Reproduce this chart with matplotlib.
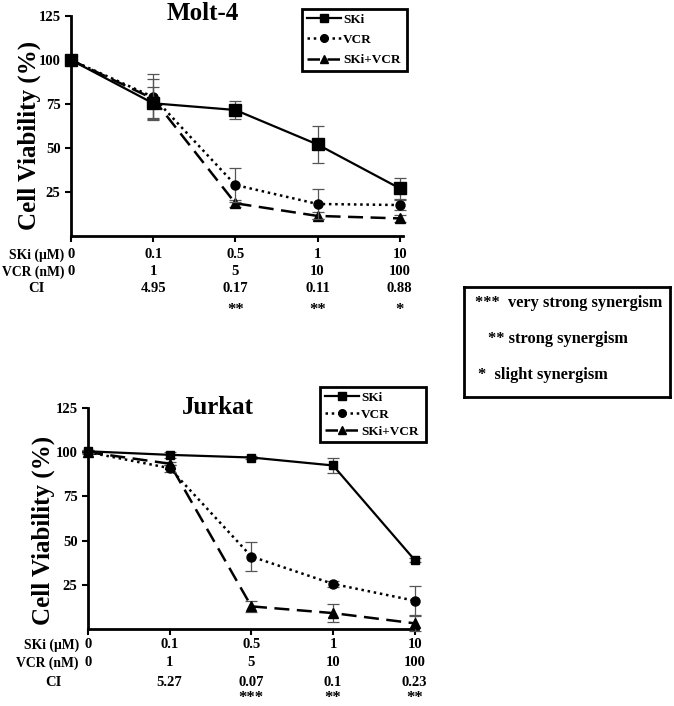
import numpy as np
import matplotlib

matplotlib.use("Agg")
import matplotlib.pyplot as plt
from matplotlib.transforms import blended_transform_factory
from matplotlib.lines import Line2D

plt.rcParams["font.family"] = ["Liberation Serif", "DejaVu Serif"]
plt.rcParams["font.weight"] = "bold"

W, H = 674, 706

positions = [0, 1, 2, 3, 4]
ski_dose = ["0", "0.1", "0.5", "1", "10"]
vcr_dose = ["0", "1", "5", "10", "100"]

molt_ski = [100, 75.4, 71.6, 52.0, 27.1]
molt_ski_err = [0, 9, 5, 10.5, 6]
molt_vcr = [100, 79, 29, 18.2, 17.6]
molt_vcr_err = [0, 13, 9.5, 8.5, 3]
molt_combo = [100, 78, 18.6, 11.4, 10]
molt_combo_err = [0, 11, 2, 2, 2]
molt_ci = ["", "4.95", "0.17", "0.11", "0.88"]
molt_stars = ["", "", "**", "**", "*"]

jurkat_ski = [100.5, 98.5, 97, 92.5, 39]
jurkat_ski_err = [1, 1.5, 1, 4.5, 1]
jurkat_vcr = [100, 91, 41, 25.5, 16]
jurkat_vcr_err = [1, 2, 8, 1.5, 8.5]
jurkat_combo = [100, 93.5, 12.8, 9, 3.2]
jurkat_combo_err = [0.5, 1, 3, 5, 4.5]
jurkat_ci = ["", "5.27", "0.07", "0.1", "0.23"]
jurkat_stars = ["", "", "***", "**", "**"]

key_lines = ["***  very strong synergism", "** strong synergism", "*  slight synergism"]

fig = plt.figure(figsize=(W / 100, H / 100), dpi=100)


def add_ax(l, t, r, b):
    return fig.add_axes([l / W, 1 - b / H, (r - l) / W, (b - t) / H])


def fy(y):
    return 1 - y / H


def fx(x):
    return x / W


def panel(box, title, title_xy, ski, ski_e, vcr, vcr_e, combo, combo_e,
          ci, stars, rows_y, label_right, ci_x, ylab_xy, leg_box, leg_sp, msq,
          star_va):
    ax = add_ax(*box)
    ekw = dict(ecolor="#555555", elinewidth=0.9, capsize=4, capthick=0.9)
    ax.errorbar(positions, combo, yerr=combo_e, color="k", ls=(0, (6, 3)), lw=1.8,
                marker="^", ms=7, clip_on=False, zorder=3, **ekw)
    ax.errorbar(positions, vcr, yerr=vcr_e, color="k", ls=(0, (1, 1.5)), lw=1.8,
                marker="o", ms=6.5, clip_on=False, zorder=4, **ekw)
    ax.errorbar(positions, ski, yerr=ski_e, color="k", ls="-", lw=1.6,
                marker="s", ms=msq, clip_on=False, zorder=5, **ekw)
    ax.set_xlim(0, 4.04)
    ax.set_ylim(0, 125)
    ax.set_yticks([25, 50, 75, 100, 125])
    ax.set_xticks(positions)
    ax.set_xticklabels([])
    ax.tick_params(direction="out", length=4, width=1.5, labelsize=10.5)
    for t in ax.get_yticklabels():
        t.set_fontweight("bold")
    for s in ("top", "right"):
        ax.spines[s].set_visible(False)
    for s in ("left", "bottom"):
        ax.spines[s].set_linewidth(2)
    fig.text(fx(title_xy[0]), fy(title_xy[1]), title, ha="center", va="center",
             fontsize=18, fontweight="bold")
    fig.text(fx(ylab_xy[0]), fy(ylab_xy[1]), "Cell Viability (%)", rotation=90,
             ha="center", va="center", fontsize=18, fontweight="bold")

    tr = blended_transform_factory(ax.transData, fig.transFigure)
    fig.text(fx(label_right), fy(rows_y[0]), "SKi (μM)", ha="right", va="center",
             fontsize=9.8)
    fig.text(fx(label_right), fy(rows_y[1]), "VCR (nM)", ha="right", va="center",
             fontsize=9.8)
    fig.text(fx(ci_x), fy(rows_y[2]), "CI", ha="center", va="center", fontsize=10.5)
    for i in positions:
        ax.text(i, fy(rows_y[0]), ski_dose[i], transform=tr, ha="center",
                va="center", fontsize=10.5)
        ax.text(i, fy(rows_y[1]), vcr_dose[i], transform=tr, ha="center",
                va="center", fontsize=10.5)
        ax.text(i, fy(rows_y[2]), ci[i], transform=tr, ha="center",
                va="center", fontsize=10.5)
        ax.text(i, fy(rows_y[3]), stars[i], transform=tr, ha="center",
                va=star_va, fontsize=12)

    handles = [
        Line2D([], [], color="k", ls="-", lw=1.6, marker="s", ms=6),
        Line2D([], [], color="k", ls=(0, (1, 1.5)), lw=1.8, marker="o", ms=5.5),
        Line2D([], [], color="k", ls=(0, (5, 3)), lw=1.8, marker="^", ms=6),
    ]
    l, t, r, b = leg_box
    leg = ax.legend(handles, ["SKi", "VCR", "SKi+VCR"], loc="upper left",
                    bbox_to_anchor=(fx(l), fy(b), (r - l) / W, (b - t) / H),
                    bbox_transform=fig.transFigure, mode="expand",
                    fancybox=False, edgecolor="k", framealpha=1,
                    prop=dict(size=9.5, weight="bold"), handlelength=2.6,
                    handletextpad=0.15, labelspacing=leg_sp, borderpad=0.35,
                    borderaxespad=0)
    leg.get_frame().set_linewidth(2)
    return ax


panel((71, 16, 403, 236), "Molt-4", (203, 13),
      molt_ski, molt_ski_err, molt_vcr, molt_vcr_err, molt_combo, molt_combo_err,
      molt_ci, molt_stars, (255, 272, 289, 310), 64, 36, (29, 135),
      (302, 9, 407, 68), 0.6, 9, "center")

panel((88, 408, 418, 629), "Jurkat", (218, 407),
      jurkat_ski, jurkat_ski_err, jurkat_vcr, jurkat_vcr_err, jurkat_combo,
      jurkat_combo_err, jurkat_ci, jurkat_stars, (645, 663, 682, 706), 79, 53,
      (43, 530), (320, 387, 426, 441), 0.35, 5.5, "bottom")

# synergism key
kax = fig.add_axes([fx(464), fy(397), (670 - 464) / W, (397 - 287) / H])
kax.set_xticks([])
kax.set_yticks([])
for s in kax.spines.values():
    s.set_linewidth(2)
key_x = [475, 488, 478]
key_y = [303, 339, 375]
for txt, x, y in zip(key_lines, key_x, key_y):
    fig.text(fx(x), fy(y), txt, ha="left", va="center", fontsize=11.8)

fig.savefig("out.png", dpi=100)
